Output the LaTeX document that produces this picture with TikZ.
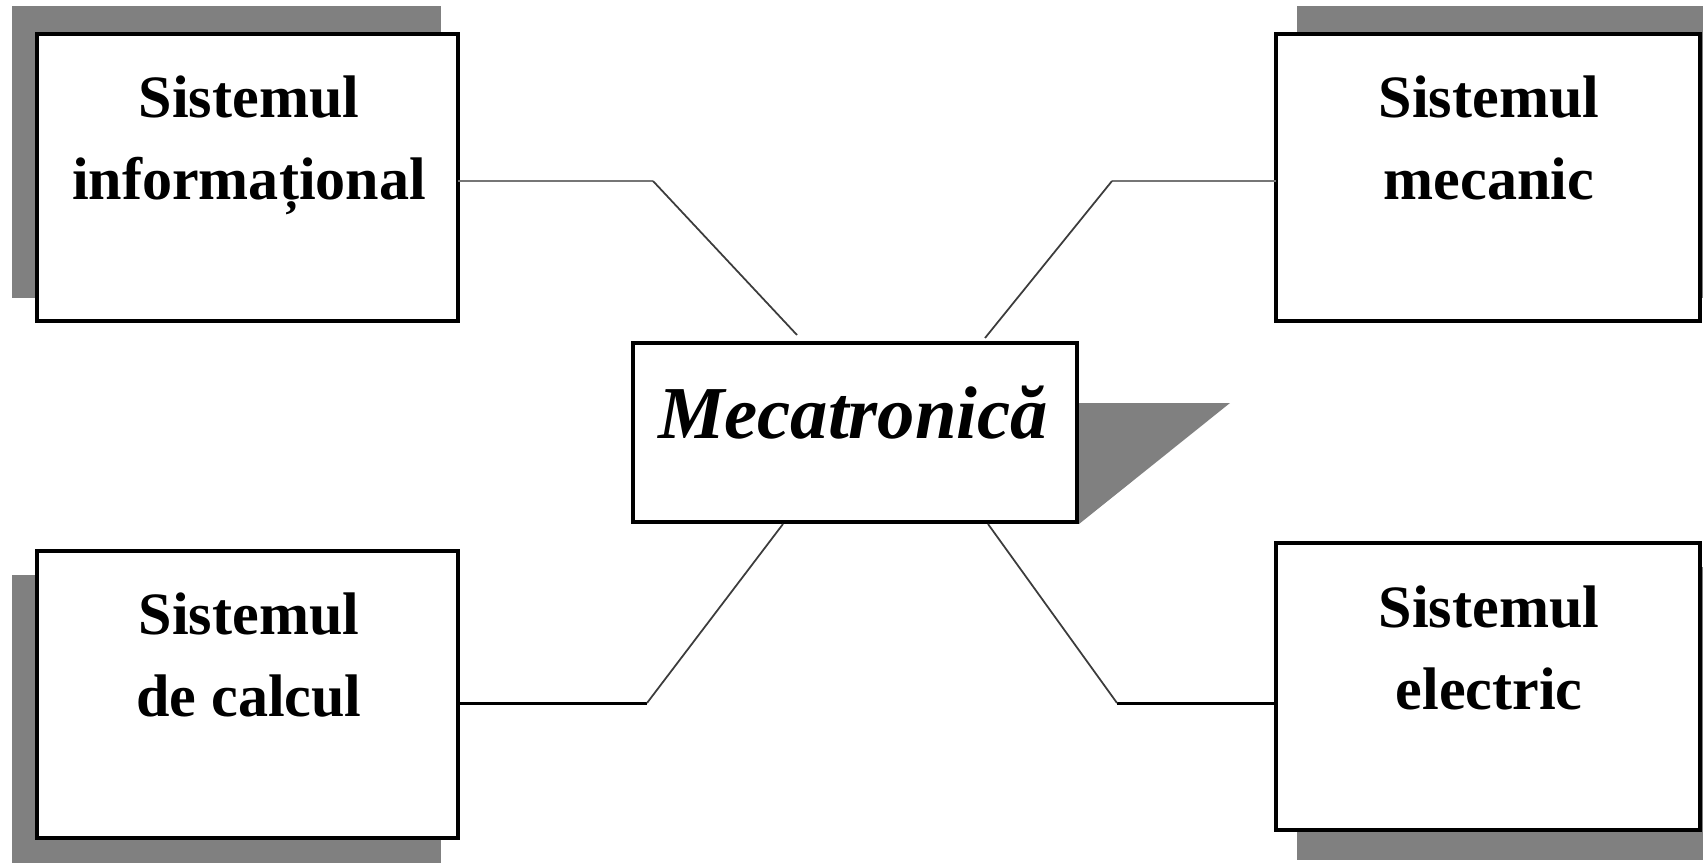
\documentclass[tikz,border=0pt]{standalone}
\usepackage{fontspec}
\setmainfont{Liberation Serif}
\usetikzlibrary{calc}
\definecolor{shadowgray}{RGB}{128,128,128}
\definecolor{linkgray}{RGB}{118,118,118}
\definecolor{diaggray}{RGB}{60,60,60}
\begin{document}
\begin{tikzpicture}[x=0.02cm,y=-0.02cm,
  sysbox/.style={draw=black,line width=2.3pt,fill=white,rectangle,
                 inner sep=0pt,outer sep=0pt,minimum height=5.74cm},
  lbl/.style={font=\fontsize{34.2}{42}\selectfont\bfseries,anchor=base,inner sep=0pt},
  title/.style={font=\fontsize{42.5}{50}\selectfont\bfseries\itshape,anchor=base,inner sep=0pt},
  toplink/.style={draw=linkgray,line width=1.2pt},
  botlink/.style={draw=black,line width=1.7pt},
  diag/.style={draw=diaggray,line width=1pt},
  shadowfill/.style={fill=shadowgray,draw=none}]
\useasboundingbox (0,0) rectangle (1703,862);

% drop shadows behind the four boxes
\path[shadowfill] (12,6) rectangle (441,298);
\path[shadowfill] (1297,6) rectangle (1725,298);
\path[shadowfill] (12,575) rectangle (441,866);
\path[shadowfill] (1297,567) rectangle (1725,860);
% wedge shadow of the central box
\path[shadowfill] (1079,403) -- (1230,403) -- (1079,524) -- cycle;

% bend points and ends of the connectors
\coordinate (k1) at (653,181);  \coordinate (t1) at (797,335);
\coordinate (k2) at (1112,181); \coordinate (t2) at (985,338);
\coordinate (k3) at (647,703);  \coordinate (t3) at (783,524);
\coordinate (k4) at (1117,703); \coordinate (t4) at (988,524);

% boxes
\node[sysbox,minimum width=8.42cm] (info) at (247.5,177.5) {};
\node[sysbox,minimum width=8.48cm] (mecanic) at (1488,177.5) {};
\node[sysbox,minimum width=8.42cm] (calcul) at (247.5,694.5) {};
\node[sysbox,minimum width=8.48cm] (electric) at (1488,686.5) {};
\node[sysbox,minimum width=8.88cm,minimum height=3.58cm] (mec) at (855,432.5) {};

% connectors
\draw[toplink] (info.east |- k1) -- (k1);
\draw[diag] (k1) -- (t1);
\draw[toplink] (mecanic.west |- k2) -- (k2);
\draw[diag] (k2) -- (t2);
\draw[botlink] (calcul.east |- k3) -- (k3);
\draw[diag] (k3) -- (t3);
\draw[botlink] (electric.west |- k4) -- (k4);
\draw[diag] (k4) -- (t4);

% labels
\node[lbl] (info1) at (249,117) {Sistemul};
\node[lbl] (info2) at (249,199) {informațional};
\node[lbl] (mec1) at (1489,117) {Sistemul};
\node[lbl] (mec2) at (1489,199) {mecanic};
\node[lbl] (cal1) at (249,634) {Sistemul};
\node[lbl] (cal2) at (249,716) {de calcul};
\node[lbl] (el1) at (1489,627) {Sistemul};
\node[lbl] (el2) at (1489,709) {electric};
\node[title] (mectext) at (853,438) {Mecatronică};
\end{tikzpicture}
\end{document}
